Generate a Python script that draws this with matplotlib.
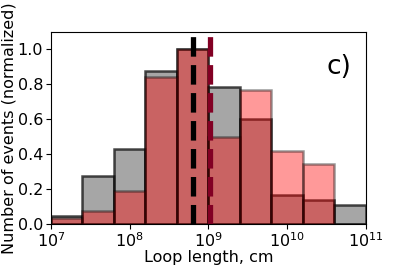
import numpy as np
import matplotlib
matplotlib.use('Agg')
import matplotlib.pyplot as plt

# log10 bin edges of loop length, cm
log_edges = np.linspace(7, 11, 11)
# normalized histograms
gray_counts = [0.048, 0.276, 0.43, 0.876, 1.0, 0.785, 0.60, 0.168, 0.137, 0.107]
red_counts = [0.034, 0.076, 0.19, 0.844, 1.0, 0.50, 0.766, 0.42, 0.345, 0.0]
# medians (log10 cm)
black_median = 8.80
red_median = 9.02

edges = 10 ** log_edges
widths = np.diff(edges)

fig = plt.figure(figsize=(4.07, 2.71), dpi=100)
ax = fig.add_axes([0.125, 0.173, 0.774, 0.709])

ax.bar(edges[:-1], gray_counts, width=widths, align='edge',
       color='gray', alpha=0.7, edgecolor='black', linewidth=1.8)
ax.bar(edges[:-1], red_counts, width=widths, align='edge',
       color='red', alpha=0.4, edgecolor='black', linewidth=1.8)

ax.axvline(10 ** black_median, color='black', linestyle='--', linewidth=3.8)
ax.axvline(10 ** red_median, color='#820024', linestyle='--', linewidth=3.8)

ax.set_xscale('log')
ax.set_xlim(1e7, 1e11)
ax.set_ylim(0, 1.1)
ax.set_yticks([0.0, 0.2, 0.4, 0.6, 0.8, 1.0])
ax.minorticks_off()
ax.tick_params(labelsize=11.5, pad=2)
ax.set_xlabel('Loop length, cm', fontsize=11.5, labelpad=0)
ax.set_ylabel('Number of events (normalized)', fontsize=11.5, labelpad=1)
ax.text(0.914, 0.82, 'c)', transform=ax.transAxes, fontsize=19,
        ha='center', va='center')

fig.savefig('out.png', dpi=100)
